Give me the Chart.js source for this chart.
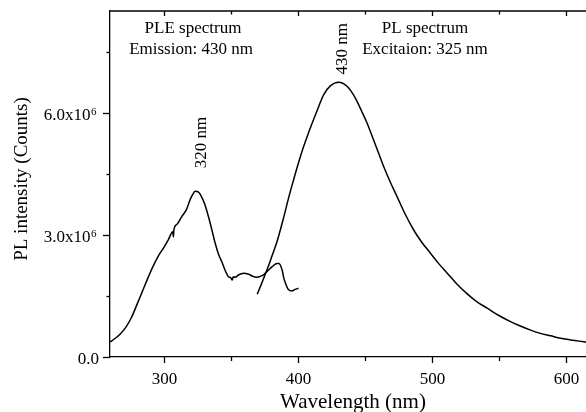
<!DOCTYPE html>
<html>
<head>
<meta charset="utf-8">
<script src="https://cdn.jsdelivr.net/npm/chart.js@4/dist/chart.umd.min.js"></script>
<style>
	html, body { margin:0; padding:0; background:#fff; }
	#wrap { width:586px; height:412px; }
</style>
</head>
<body>
<div id="wrap"><canvas id="c" width="586" height="412"></canvas></div>
<script>
// PLE spectrum (emission 430 nm)
const pleWavelength = [260, 264, 268, 272, 276, 280, 284, 288, 292, 296, 300, 303.5, 306.8, 307.3, 307.7, 310, 313.5, 317, 319.7, 321.5, 323.5, 326, 328.5, 331, 333.4, 336, 338.4, 341, 343.4, 346, 348.4, 350, 351, 352, 353.4, 356, 359.6, 363, 366, 369.6, 372, 374.5, 378.3, 381, 384.5, 386, 387, 388.5, 389.4, 391, 393.2, 395.7, 398, 400.6]
const pleIntensity = [0.37, 0.46, 0.58, 0.74, 0.97, 1.28, 1.60, 1.92, 2.22, 2.48, 2.68, 2.88, 3.08, 2.95, 3.14, 3.26, 3.45, 3.62, 3.86, 3.98, 4.07, 4.05, 3.92, 3.72, 3.45, 3.12, 2.80, 2.52, 2.34, 2.12, 1.97, 1.95, 1.89, 1.97, 1.96, 2.02, 2.06, 2.04, 1.99, 1.96, 1.98, 2.02, 2.14, 2.22, 2.30, 2.30, 2.26, 2.12, 1.97, 1.80, 1.65, 1.62, 1.66, 1.69]

// PL spectrum (excitation 325 nm)
const plWavelength = [369.8, 373.5, 377.3, 381, 384.7, 389.3, 393.2, 396.9, 400.6, 404.4, 408.1, 411.8, 415.6, 419.3, 424.3, 430.5, 436.8, 443, 447.5, 451.7, 456.6, 461, 464.1, 469, 474.1, 480, 486.5, 492.5, 499, 505, 511.5, 518.5, 526.4, 533.5, 541.3, 550, 558.7, 566, 573.7, 581, 588.6, 596, 603.5, 610, 615]
const plIntensity = [1.54, 1.84, 2.16, 2.50, 2.85, 3.40, 3.91, 4.35, 4.77, 5.17, 5.51, 5.83, 6.15, 6.44, 6.66, 6.75, 6.65, 6.36, 6.05, 5.75, 5.33, 4.95, 4.68, 4.30, 3.94, 3.52, 3.12, 2.82, 2.55, 2.30, 2.06, 1.80, 1.55, 1.36, 1.20, 1.02, 0.87, 0.76, 0.66, 0.58, 0.52, 0.46, 0.42, 0.39, 0.37]

// ticks
const xTicks = [300, 350, 400, 450, 500, 550, 600]
const xLabels = ['300', '', '400', '', '500', '', '600']
const yTicks = [0, 1.5e6, 3e6, 4.5e6, 6e6, 7.5e6]
const yLabels = [['0.0', ''], null, ['3.0x10', '6'], null, ['6.0x10', '6'], null]

const FONT = '"Liberation Serif", "Times New Roman", serif'
const E6 = 1e6

const toPoints = (xs, ys) => xs.map((x, i) => ({x:x, y:ys[i] * E6}))

const frame = {
	id:'frame',
	afterDraw: ch => {
		const ctx = ch.ctx
		const a = ch.chartArea
		const sx = ch.scales.x
		const sy = ch.scales.y
		ctx.save()
		ctx.strokeStyle = '#000'
		ctx.lineWidth = 1.3
		ctx.fillStyle = '#000'

		// top spine
		ctx.beginPath()
		ctx.moveTo(a.left, a.top)
		ctx.lineTo(a.right, a.top)
		ctx.stroke()

		// x ticks, outward at bottom, inward at top
		ctx.font = `17px ${FONT}`
		ctx.textAlign = 'center'
		ctx.textBaseline = 'alphabetic'
		xTicks.forEach((v, i) => {
			const px = Math.round(sx.getPixelForValue(v)) + 0.5
			const big = xLabels[i] !== ''
			ctx.beginPath()
			ctx.moveTo(px, a.bottom)
			ctx.lineTo(px, a.bottom + (big ? 6 : 4))
			ctx.moveTo(px, a.top)
			ctx.lineTo(px, a.top + (big ? 5 : 3.5))
			ctx.stroke()
			if (big) ctx.fillText(xLabels[i], px, a.bottom + 27)
		})

		// y ticks and labels with exponent
		yTicks.forEach((v, i) => {
			const py = Math.round(sy.getPixelForValue(v)) + 0.5
			const lb = yLabels[i]
			ctx.beginPath()
			ctx.moveTo(a.left, py)
			ctx.lineTo(a.left - (lb ? 7 : 3.5), py)
			ctx.stroke()
			if (!lb) return
			ctx.textAlign = 'right'
			if (lb[1]) {
				ctx.font = `11px ${FONT}`
				ctx.fillText(lb[1], a.left - 13.5, py + 1)
				const w = ctx.measureText(lb[1]).width
				ctx.font = `17px ${FONT}`
				ctx.fillText(lb[0], a.left - 13.5 - w - 0.5, py + 6)
			} else {
				ctx.font = `17px ${FONT}`
				ctx.fillText(lb[0], a.left - 11, py + 6)
			}
		})

		// axis titles
		ctx.font = `21px ${FONT}`
		ctx.textAlign = 'center'
		ctx.fillText('Wavelength (nm)', 353, 408)
		ctx.save()
		ctx.translate(26.5, 179)
		ctx.rotate(-Math.PI / 2)
		ctx.font = `19px ${FONT}`
		ctx.fillText('PL intensity (Counts)', 0, 0)
		ctx.restore()

		// annotations
		ctx.font = `17px ${FONT}`
		ctx.fillText('PLE spectrum', 193, 33)
		ctx.fillText('Emission: 430 nm', 191, 54)
		ctx.fillText('PL spectrum', 425, 33)
		ctx.fillText('Excitaion: 325 nm', 425, 54)

		const vlabel = (t, wl, val) => {
			ctx.save()
			ctx.translate(sx.getPixelForValue(wl), sy.getPixelForValue(val))
			ctx.rotate(-Math.PI / 2)
			ctx.textBaseline = 'middle'
			ctx.fillText(t, 0, 0)
			ctx.restore()
		}
		vlabel('320 nm', 328, 5.27 * E6)
		vlabel('430 nm', 433.6, 7.57 * E6)

		ctx.restore()
	}
}

const ds = (d) => ({
	data:d,
	borderColor:'#000',
	borderWidth:1.5,
	pointRadius:0,
	fill:false,
	cubicInterpolationMode:'monotone',
})

new Chart(document.getElementById('c'), {
	type:'line',
	data:{
		datasets:[
			ds(toPoints(pleWavelength, pleIntensity)),
			ds(toPoints(plWavelength, plIntensity)),
		]
	},
	plugins:[frame],
	options:{
		responsive:false,
		animation:false,
		events:[],
		layout:{ padding:{ top:11, right:0, left:0, bottom:0 } },
		plugins:{
			legend:{ display:false },
			tooltip:{ enabled:false },
		},
		scales:{
			x:{
				type:'linear',
				min:260,
				max:615,
				grid:{ display:false },
				border:{ display:true, color:'#000', width:1.3 },
				ticks:{ display:false },
				afterFit: s => { s.height = 55 },
			},
			y:{
				type:'linear',
				min:0,
				max:8.5e6,
				grid:{ display:false },
				border:{ display:true, color:'#000', width:1.3 },
				ticks:{ display:false },
				afterFit: s => { s.width = 110 },
			},
		},
	},
})
</script>
</body>
</html>
